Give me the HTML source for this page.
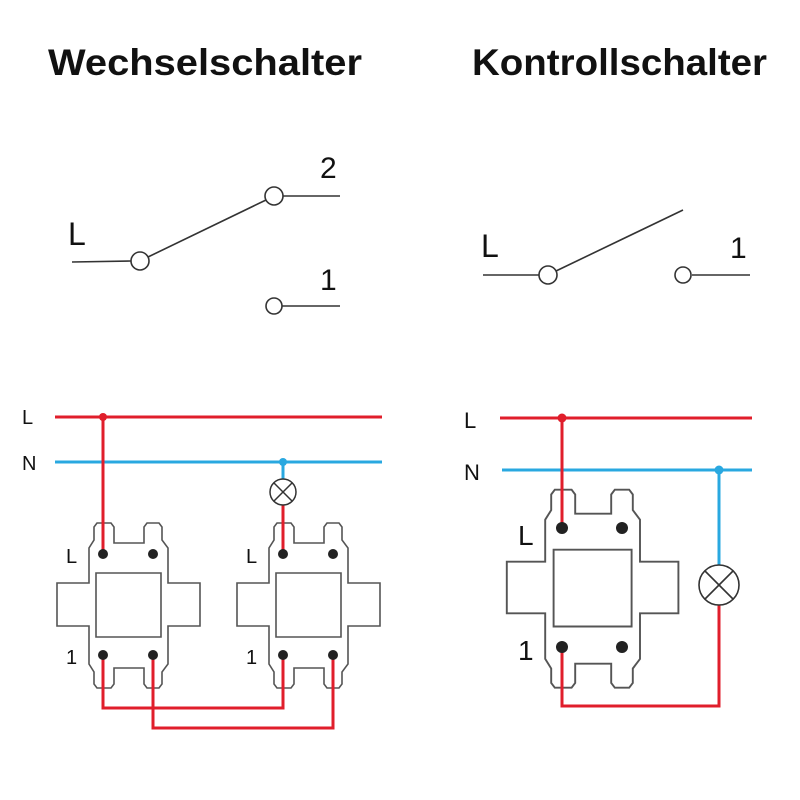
<!DOCTYPE html>
<html><head><meta charset="utf-8"><style>
html,body{margin:0;padding:0;background:#fff}
svg{display:block}
text{font-family:"Liberation Sans",sans-serif;fill:#111}
</style></head><body>
<svg width="800" height="800" viewBox="0 0 800 800" xmlns="http://www.w3.org/2000/svg">
<defs>
<path id="sw" d="M97,523 L111,523 L114,527 L114,543 L144,543 L144,527 L147,523 L159,523 L162,527 L162,540 L168,548 L168,583 L200,583 L200,626 L168,626 L168,664 L162,672 L162,684 L159,688 L147,688 L144,684 L144,668 L114,668 L114,684 L111,688 L97,688 L94,684 L94,672 L89,664 L89,626 L57,626 L57,583 L89,583 L89,548 L94,540 L94,527 Z M96,573 L161,573 L161,637 L96,637 Z" fill="none" stroke="#555" stroke-width="1.6"/>
</defs>
<text x="48" y="75" font-size="37" font-weight="bold" textLength="314" lengthAdjust="spacingAndGlyphs">Wechselschalter</text>
<text x="472" y="75" font-size="37" font-weight="bold" textLength="295" lengthAdjust="spacingAndGlyphs">Kontrollschalter</text>

<g stroke="#333" stroke-width="1.6" fill="#fff">
<line x1="72" y1="262" x2="131" y2="261"/>
<line x1="148" y1="257" x2="266" y2="200"/>
<line x1="283" y1="196" x2="340" y2="196"/>
<line x1="282" y1="306" x2="340" y2="306"/>
<circle cx="140" cy="261" r="9"/>
<circle cx="274" cy="196" r="9"/>
<circle cx="274" cy="306" r="8"/>
<line x1="483" y1="275" x2="539" y2="275"/>
<line x1="556" y1="271" x2="683" y2="210"/>
<line x1="692" y1="275" x2="750" y2="275"/>
<circle cx="548" cy="275" r="9"/>
<circle cx="683" cy="275" r="8"/>
</g>
<text x="68" y="245" font-size="32">L</text>
<text x="320" y="178" font-size="30">2</text>
<text x="320" y="290" font-size="30">1</text>
<text x="481" y="257" font-size="32">L</text>
<text x="730" y="258" font-size="30">1</text>

<text x="22" y="424" font-size="20">L</text>
<text x="22" y="470" font-size="20">N</text>
<line x1="55" y1="417" x2="382" y2="417" stroke="#e01e2b" stroke-width="3"/>
<line x1="55" y1="462" x2="382" y2="462" stroke="#29a8e0" stroke-width="3"/>
<use href="#sw"/>
<use href="#sw" transform="translate(180,0)"/>
<g fill="none" stroke="#e01e2b" stroke-width="3">
<polyline points="103,417 103,554"/>
<polyline points="283,505 283,554"/>
<polyline points="103,655 103,708 283,708 283,655"/>
<polyline points="153,655 153,728 333,728 333,655"/>
</g>
<line x1="283" y1="462" x2="283" y2="479" stroke="#29a8e0" stroke-width="3"/>
<circle cx="103" cy="417" r="4" fill="#e01e2b"/>
<circle cx="283" cy="462" r="4" fill="#29a8e0"/>
<g stroke="#333" stroke-width="1.5" fill="#fff">
<circle cx="283" cy="492" r="13"/>
<line x1="274" y1="483" x2="292" y2="501"/><line x1="292" y1="483" x2="274" y2="501"/>
</g>
<g fill="#222">
<circle cx="103" cy="554" r="5"/><circle cx="153" cy="554" r="5"/>
<circle cx="103" cy="655" r="5"/><circle cx="153" cy="655" r="5"/>
<circle cx="283" cy="554" r="5"/><circle cx="333" cy="554" r="5"/>
<circle cx="283" cy="655" r="5"/><circle cx="333" cy="655" r="5"/>
</g>
<text x="66" y="563" font-size="20">L</text>
<text x="66" y="664" font-size="20">1</text>
<text x="246" y="563" font-size="20">L</text>
<text x="246" y="664" font-size="20">1</text>

<text x="464" y="428" font-size="22">L</text>
<text x="464" y="480" font-size="22">N</text>
<line x1="500" y1="418" x2="752" y2="418" stroke="#e01e2b" stroke-width="3"/>
<line x1="502" y1="470" x2="752" y2="470" stroke="#29a8e0" stroke-width="3"/>
<use href="#sw" transform="translate(438.4,-137.9) scale(1.2)"/>
<polyline points="719,470 719,565" fill="none" stroke="#29a8e0" stroke-width="3"/>
<polyline points="562,418 562,528" fill="none" stroke="#e01e2b" stroke-width="3"/>
<polyline points="719,605 719,706 562,706 562,647" fill="none" stroke="#e01e2b" stroke-width="3"/>
<circle cx="562" cy="418" r="4.5" fill="#e01e2b"/>
<circle cx="719" cy="470" r="4.5" fill="#29a8e0"/>
<g stroke="#333" stroke-width="1.6" fill="#fff">
<circle cx="719" cy="585" r="20"/>
<line x1="705" y1="571" x2="733" y2="599"/><line x1="733" y1="571" x2="705" y2="599"/>
</g>
<g fill="#222">
<circle cx="562" cy="528" r="6"/><circle cx="622" cy="528" r="6"/>
<circle cx="562" cy="647" r="6"/><circle cx="622" cy="647" r="6"/>
</g>
<text x="518" y="545" font-size="28">L</text>
<text x="518" y="660" font-size="28">1</text>
</svg>
</body></html>
